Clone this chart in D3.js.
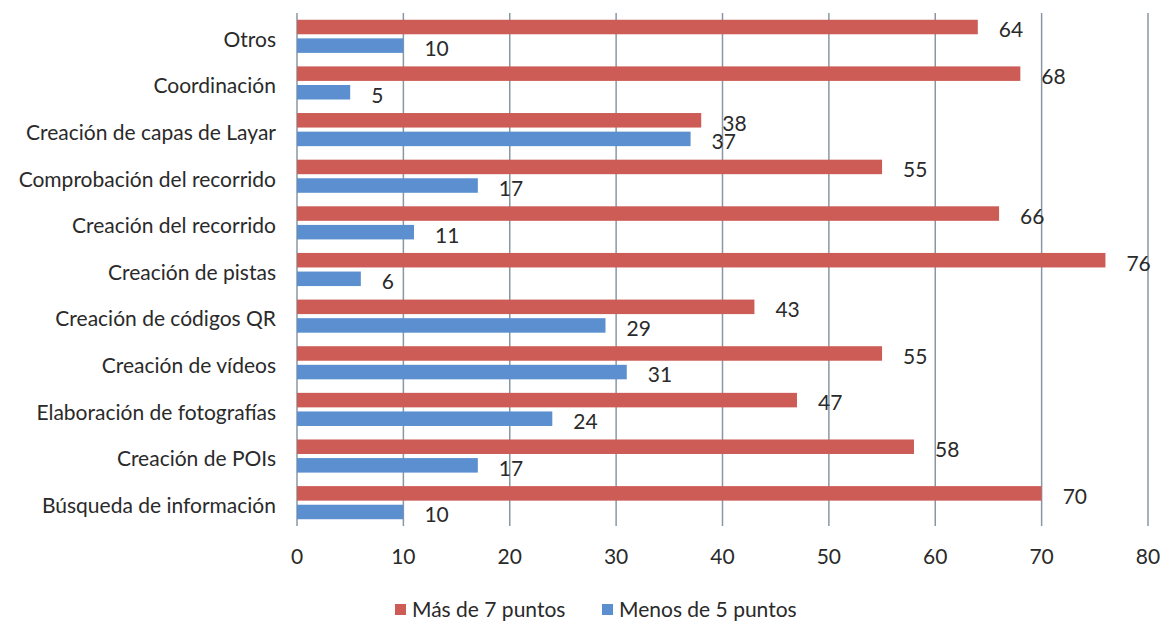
<!DOCTYPE html>
<html>
<head>
<meta charset="utf-8">
<script src="https://cdn.jsdelivr.net/npm/d3@7"></script>
<style>
  body { margin: 0; background: #fff; }
  svg { display: block; }
</style>
</head>
<body>
<div id="chart"></div>
<script>
// categories top to bottom
var categories = ["Otros", "Coordinación", "Creación de capas de Layar", "Comprobación del recorrido",
  "Creación del recorrido", "Creación de pistas", "Creación de códigos QR", "Creación de vídeos",
  "Elaboración de fotografías", "Creación de POIs", "Búsqueda de información"]
var mas7 = [64, 68, 38, 55, 66, 76, 43, 55, 47, 58, 70]
var menos5 = [10, 5, 37, 17, 11, 6, 29, 31, 24, 17, 10]
var seriesNames = ["Más de 7 puntos", "Menos de 5 puntos"]
var seriesColors = ["#cd5b56", "#5b8fcf"]
var xTicks = [0, 10, 20, 30, 40, 50, 60, 70, 80]

var width = 1166, height = 626
var plotLeft = 297, plotRight = 1148, plotTop = 13, plotBottom = 526
var font = "Lato, 'Open Sans', sans-serif"
var fontSize = 21
var textColor = "#2a2a2a"

var svg = d3.select("#chart").append("svg")
  .attr("width", width)
  .attr("height", height)

var x = d3.scaleLinear().domain([0, 80]).range([plotLeft, plotRight])
var y = d3.scaleBand().domain(categories).range([plotTop, plotBottom])
  .paddingInner(0.29).paddingOuter(0.145)
var ySub = d3.scaleBand().domain([0, 1]).range([0, y.bandwidth()]).paddingInner(0.22)

// gridlines
svg.append("g").selectAll("line")
  .data(xTicks)
  .join("line")
  .attr("x1", d => x(d)).attr("x2", d => x(d))
  .attr("y1", plotTop).attr("y2", plotBottom)
  .attr("stroke", "#8798a4")
  .attr("stroke-width", 1.5)

// tick labels
svg.append("g").selectAll("text")
  .data(xTicks)
  .join("text")
  .attr("x", d => x(d))
  .attr("y", 557)
  .attr("dy", "0.35em")
  .attr("text-anchor", "middle")
  .attr("font-family", font)
  .attr("font-size", fontSize)
  .attr("fill", textColor)
  .text(d => d)

var rows = categories.map((c, i) => ({ cat: c, vals: [mas7[i], menos5[i]] }))

var groups = svg.append("g").selectAll("g")
  .data(rows)
  .join("g")
  .attr("transform", d => "translate(0," + y(d.cat) + ")")

groups.selectAll("rect")
  .data(d => d.vals.map((v, s) => ({ v: v, s: s })))
  .join("rect")
  .attr("x", x(0))
  .attr("y", d => ySub(d.s))
  .attr("width", d => x(d.v) - x(0))
  .attr("height", ySub.bandwidth())
  .attr("fill", d => seriesColors[d.s])

groups.selectAll("text.val")
  .data(d => d.vals.map((v, s) => ({ v: v, s: s })))
  .join("text")
  .attr("class", "val")
  .attr("x", d => x(d.v) + 21)
  .attr("y", d => ySub(d.s) + ySub.bandwidth() / 2 + 3)
  .attr("dy", "0.35em")
  .attr("font-family", font)
  .attr("font-size", fontSize)
  .attr("fill", textColor)
  .text(d => d.v)

// category labels
svg.append("g").selectAll("text")
  .data(categories)
  .join("text")
  .attr("x", 276)
  .attr("y", d => y(d) + y.bandwidth() / 2 + 3)
  .attr("dy", "0.35em")
  .attr("text-anchor", "end")
  .attr("font-family", font)
  .attr("font-size", fontSize)
  .attr("fill", textColor)
  .text(d => d)

// legend
var legendX = [395, 602]
var legend = svg.append("g").selectAll("g")
  .data(seriesNames)
  .join("g")
  .attr("transform", (d, i) => "translate(" + legendX[i] + ",604)")

legend.append("rect")
  .attr("width", 11).attr("height", 11)
  .attr("fill", (d, i) => seriesColors[i])

legend.append("text")
  .attr("x", 17)
  .attr("y", 6)
  .attr("dy", "0.35em")
  .attr("font-family", font)
  .attr("font-size", fontSize)
  .attr("fill", textColor)
  .text(d => d)
</script>
</body>
</html>
